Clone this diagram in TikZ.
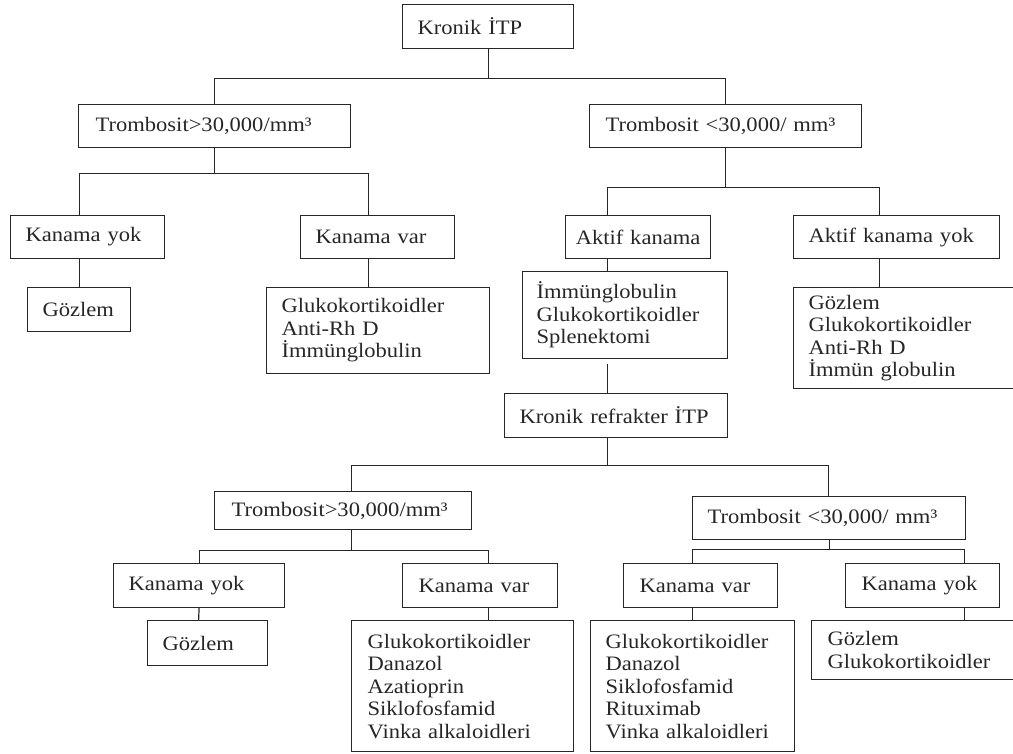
\documentclass[tikz,border=0pt]{standalone}
\usepackage{fontspec}
\setmainfont{Liberation Serif}[FakeStretch=1.1]
\begin{document}
\begin{tikzpicture}[x=1pt,y=-1pt,
  box/.style={draw=black!85, line width=1.2pt, rectangle, anchor=north west,
    inner xsep=15pt, inner ysep=0pt, align=left,
    font=\fontsize{20.5}{22.5}\selectfont, text=black!85},
  link/.style={draw=black!85, line width=1.2pt}]
\useasboundingbox (0,0) rectangle (1013,754);
\clip (0,0) rectangle (1013,754);
% level 0
\node[box, text width=141pt, minimum height=44pt] (n0) at (402,4) {Kronik İTP};
% level 1
\node[box, inner xsep=17pt, text width=238pt, minimum height=43pt] (t1) at (78,104) {Trombosit>30,000/mm³};
\node[box, inner xsep=16pt, text width=240pt, minimum height=43pt] (t2) at (589,104) {Trombosit <30,000/ mm³};
% level 2 left
\node[box, text width=124pt, minimum height=43pt] (a1) at (10,215) {Kanama yok};
\node[box, text width=124pt, minimum height=43pt] (a2) at (300,215) {Kanama var};
\node[box, text width=73pt, minimum height=44pt] (g1) at (27,287) {Gözlem};
\node[box, text width=193pt, minimum height=86pt] (l1) at (266,287) {Glukokortikoidler\\Anti-Rh D\\İmmünglobulin};
% level 2 right
\node[box, inner xsep=4pt, text width=137pt, minimum height=43pt, align=center] (b1) at (565,215) {Aktif kanama};
\node[box, text width=176pt, minimum height=43pt] (b2) at (793,215) {Aktif kanama yok};
\node[box, inner xsep=14pt, text width=177pt, minimum height=87pt] (m1) at (522,271) {İmmünglobulin\\Glukokortikoidler\\Splenektomi};
\node[box, text width=210pt, minimum height=101pt] (m2) at (793,287) {Gözlem\\Glukokortikoidler\\Anti-Rh D\\İmmün globulin};
% refractory
\node[box, text width=193pt, minimum height=44pt] (r) at (504,393) {Kronik refrakter İTP};
\node[box, inner xsep=17pt, text width=223pt, minimum height=38pt] (s1) at (214,491) {Trombosit>30,000/mm³};
\node[box, text width=243pt, minimum height=43pt] (s2) at (692,496) {Trombosit <30,000/ mm³};
\node[box, text width=141pt, minimum height=44pt] (c1) at (113,563) {Kanama yok};
\node[box, inner xsep=16pt, text width=123pt, minimum height=44pt] (c2) at (402,563) {Kanama var};
\node[box, inner xsep=16pt, text width=122pt, minimum height=44pt] (c3) at (623,563) {Kanama var};
\node[box, inner xsep=16pt, text width=122pt, minimum height=44pt] (c4) at (845,563) {Kanama yok};
\node[box, text width=90pt, minimum height=45pt] (d1) at (147,620) {Gözlem};
\node[box, inner xsep=16pt, text width=190pt, minimum height=131pt] (d2) at (351,620) {Glukokortikoidler\\Danazol\\Azatioprin\\Siklofosfamid\\Vinka alkaloidleri};
\node[box, text width=174pt, minimum height=131pt] (d3) at (590,620) {Glukokortikoidler\\Danazol\\Siklofosfamid\\Rituximab\\Vinka alkaloidleri};
\node[box, inner xsep=16pt, text width=198pt, minimum height=59pt] (d4) at (811,620) {Gözlem\\Glukokortikoidler};
% connectors
\draw[link] (n0.south) -- ++(0,29) -| (t1.north);
\draw[link] (n0.south) -- ++(0,29) -| (t2.north);
\draw[link] (t1.south) -- ++(0,25) -| ([xshift=-8pt]a1.north);
\draw[link] (t1.south) -- ++(0,25) -| ([xshift=-9pt]a2.north);
\draw[link] (g1.north) -- ++(0,-29);
\draw[link] ([xshift=-9.5pt]l1.north) -- ([xshift=-9pt]a2.south);
\draw[link] (t2.south) -- ++(0,39) -| ([xshift=-30.5pt]b1.north);
\draw[link] (t2.south) -- ++(0,39) -| ([xshift=-17pt]b2.north);
\draw[link] ([xshift=-30.5pt]b1.south) -- ([xshift=-17.5pt]m1.north);
\draw[link] ([xshift=-17pt]b2.south) -- ([xshift=-34pt]m2.north);
\draw[link] ([xshift=-17.5pt,yshift=-5pt]m1.south) -- ([xshift=-8.5pt]r.north);
\draw[link] ([xshift=-8.5pt]r.south) -- ++(0,27) -| ([xshift=8.5pt]s1.north);
\draw[link] ([xshift=-8.5pt]r.south) -- ++(0,27) -| ([xshift=-0.5pt]s2.north);
\draw[link] ([xshift=8.5pt]s1.south) -- ++(0,20) -| (c1.north);
\draw[link] ([xshift=8.5pt]s1.south) -- ++(0,20) -| ([xshift=8.5pt]c2.north);
\draw[link] (c1.south) -- ([xshift=-9pt]d1.north);
\draw[link] ([xshift=8.5pt]c2.south) -- ([xshift=26pt]d2.north);
\draw[link] (s2.south) -- ++(0,9) -| ([xshift=-8pt]c3.north);
\draw[link] (s2.south) -- ++(0,9) -| ([xshift=42pt]c4.north);
\draw[link] ([xshift=-8pt]c3.south) -- (d3.north);
\draw[link] ([xshift=42pt]c4.south) -- ([xshift=38pt]d4.north);
\end{tikzpicture}
\end{document}
